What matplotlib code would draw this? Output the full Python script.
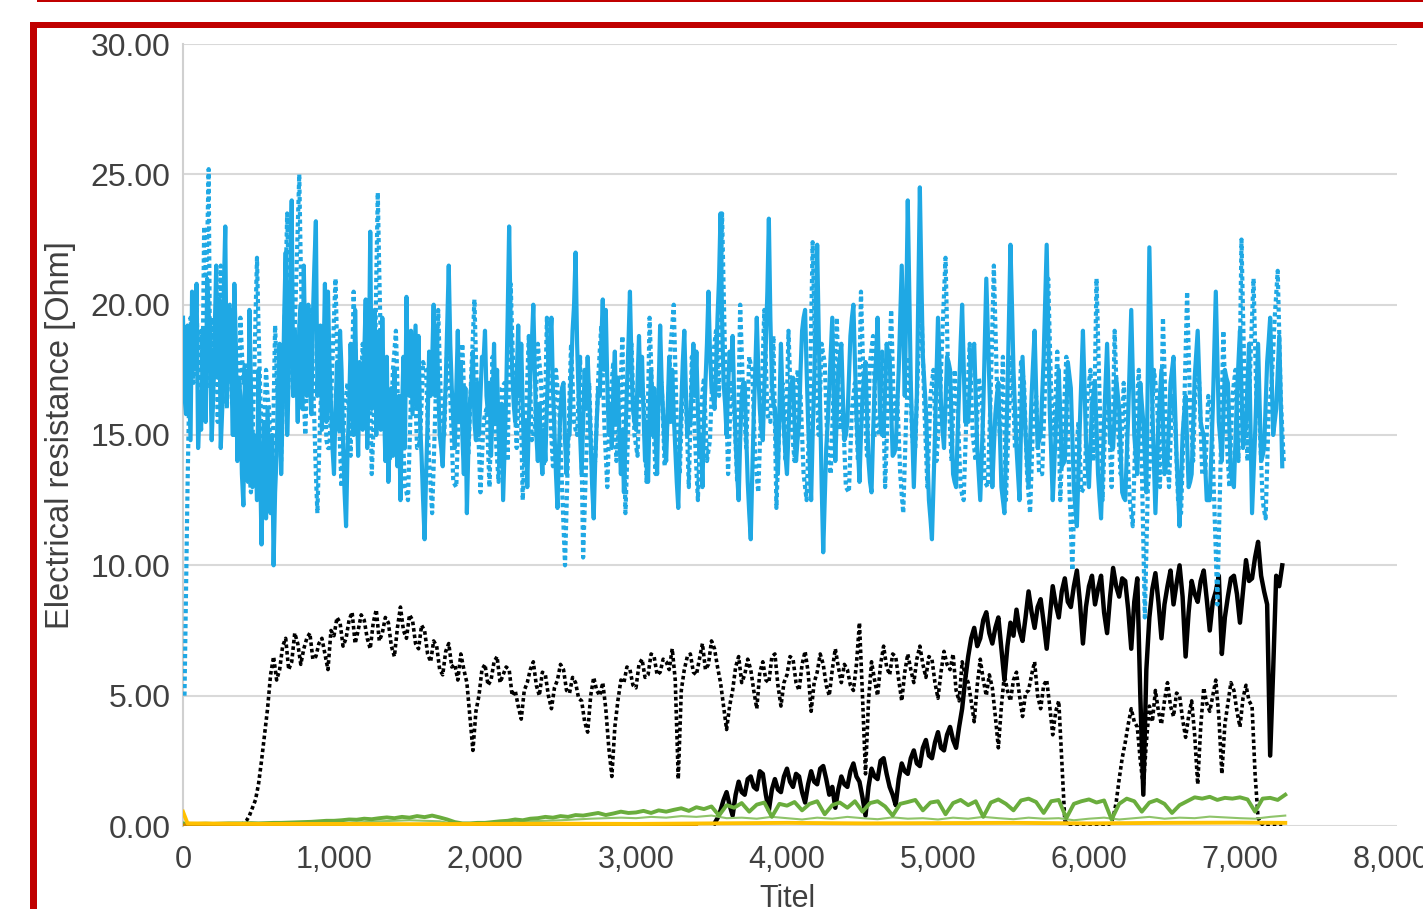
import matplotlib.pyplot as plt
import numpy as np
from matplotlib.patches import Rectangle
from matplotlib.ticker import FuncFormatter

plt.rcParams['font.family'] = ['Liberation Sans', 'DejaVu Sans']

# ---- data ----
# blue solid, every 20 from 0
blue_solid = [
    19.5, 15.8, 17.0, 20.5, 18.8, 14.5, 15.2, 19.0, 21.0, 17.8, 16.4, 21.5, 20.2, 16.0, 23.0, 18.5, 17.5, 20.8, 14.0, 16.5,
    12.3, 15.0, 19.8, 13.0, 14.5, 17.5, 10.8, 15.5, 16.0, 12.0, 10.0, 14.2, 18.5, 16.0, 22.0, 17.2, 24.0, 19.0, 15.5, 20.0,
    21.5, 16.5, 17.0, 19.5, 23.2, 18.0, 15.2, 20.8, 20.5, 16.2, 13.5, 17.8, 19.0, 14.8, 11.5, 16.0, 16.8, 19.8, 14.2, 17.5,
    18.0, 14.5, 22.8, 17.2, 15.0, 19.0, 19.5, 14.0, 13.2, 16.8, 17.5, 13.8, 12.5, 18.0, 20.3, 16.5, 15.8, 19.2, 18.8, 14.2,
    11.0, 15.5, 16.5, 20.0, 19.2, 15.0, 13.8, 17.0, 21.5, 16.8, 14.5, 19.0, 17.8, 13.5, 12.0, 16.2, 18.2, 14.8, 15.0, 18.0,
    19.0, 15.8, 14.2, 18.5, 17.5, 13.8, 12.5, 16.5, 23.0, 17.5, 15.5, 19.2, 18.5, 14.0, 13.0, 17.2, 20.0, 15.0, 16.2, 13.5,
    14.0, 17.8, 19.5, 15.2, 12.2, 16.0, 17.0, 13.5, 15.0, 19.0, 22.0, 16.5, 13.5, 17.5, 18.0, 14.8, 11.8, 15.5, 16.5, 20.2,
    19.8, 15.0, 14.5, 18.2, 17.2, 13.5, 12.8, 16.8, 20.5, 16.0, 15.2, 18.8, 18.0, 14.0, 13.2, 17.5, 16.8, 13.5, 19.2, 15.8,
    14.0, 18.0, 17.5, 14.5, 12.2, 16.2, 19.0, 15.0, 15.5, 18.5, 18.2, 14.2, 13.0, 17.0, 20.5, 16.8, 16.0, 19.5, 23.5, 17.0,
    15.0, 18.2, 18.8, 14.8, 12.5, 16.5, 17.0, 13.2, 11.0, 15.8, 19.5, 16.0, 14.8, 18.5, 23.3, 17.0, 16.0, 13.5, 18.5, 15.2,
    13.5, 16.8, 17.2, 14.0, 15.5, 19.0, 19.8, 15.5, 12.5, 17.0, 22.3, 16.0, 10.5, 14.5, 16.8, 19.5, 14.0, 17.5, 18.5, 14.8,
    15.5, 18.8, 20.0, 15.8, 13.2, 16.5, 17.8, 14.0, 12.8, 16.8, 19.5, 15.2, 15.0, 18.5, 18.0, 14.2, 14.5, 17.5, 21.5, 16.5,
    24.0, 17.0, 13.0, 16.5, 24.5, 18.0, 16.0, 12.5, 11.0, 15.0, 19.5, 16.2, 14.5, 18.0, 17.5, 13.5, 13.0, 16.8, 20.0, 15.5,
    15.5, 18.0, 18.5, 14.5, 12.5, 16.0, 21.0, 17.0, 13.0, 15.8, 17.0, 13.0, 12.0, 16.5, 22.3, 17.5, 14.5, 12.5, 18.0, 15.0,
    13.0, 16.5, 19.0, 14.5, 15.0, 18.0, 22.3, 16.0, 12.5, 15.2, 17.5, 13.8, 14.0, 17.8, 16.8, 13.0, 11.5, 15.5, 19.0, 14.8,
    13.0, 16.2, 17.0, 13.5, 11.8, 15.5, 18.5, 14.8, 14.5, 17.2, 16.0, 12.8, 12.5, 15.8, 19.8, 15.0, 13.5, 17.0, 15.5, 12.8,
    22.2, 16.0, 12.0, 15.5, 17.5, 13.5, 14.0, 17.0, 18.0, 14.2, 11.5, 15.0, 16.5, 13.0, 13.5, 17.2, 19.0, 15.5, 15.0, 12.5,
    12.5, 16.0, 20.5, 15.5, 14.0, 17.5, 17.0, 13.5, 13.0, 16.5, 19.0, 14.5, 15.5, 18.5, 12.0, 15.0, 18.5, 14.0, 14.5, 17.8,
    19.5, 15.0, 16.0, 18.8, 13.8,
]
# blue solid, the readings in between, every 20 from 10
blue_solid_mid = [
    16.5, 19.2, 14.8, 17.5, 20.8, 16.0, 18.2, 15.5, 19.8, 14.8, 19.0, 17.2, 14.5, 20.5, 16.2, 19.8, 15.0, 18.5, 17.2, 13.5,
    17.5, 13.2, 16.8, 15.0, 12.5, 14.2, 13.5, 11.8, 14.0, 15.0, 12.8, 17.0, 13.5, 19.5, 15.0, 21.0, 16.5, 17.8, 19.2, 16.0,
    18.0, 20.0, 15.8, 21.5, 16.5, 19.2, 17.5, 15.5, 17.8, 14.5, 16.0, 15.2, 17.5, 12.8, 14.5, 18.5, 15.0, 16.5, 17.8, 15.2,
    20.2, 17.0, 16.0, 19.8, 17.5, 15.2, 16.5, 18.0, 15.0, 14.2, 15.0, 16.5, 15.8, 14.5, 17.0, 19.0, 17.5, 16.0, 15.5, 12.5,
    13.5, 18.2, 17.8, 16.5, 17.0, 14.5, 15.5, 19.2, 18.5, 15.5, 16.8, 15.5, 15.0, 16.8, 14.5, 17.0, 15.5, 17.0, 16.5, 17.8,
    16.5, 17.0, 16.0, 15.5, 15.0, 16.2, 14.5, 19.5, 19.2, 16.2, 17.2, 16.5, 16.0, 15.5, 15.5, 18.5, 17.5, 14.0, 14.5, 15.2,
    16.2, 18.5, 16.8, 13.5, 14.5, 16.8, 14.8, 15.0, 17.2, 20.0, 18.5, 15.0, 15.5, 16.0, 16.5, 13.0, 14.0, 16.8, 18.5, 17.5,
    17.0, 16.2, 16.8, 15.5, 15.0, 15.2, 14.8, 18.5, 17.8, 15.5, 17.0, 16.5, 15.8, 15.5, 15.8, 15.0, 14.8, 16.8, 17.0, 14.5,
    16.0, 15.5, 15.8, 13.2, 14.5, 17.8, 16.8, 15.5, 17.0, 16.5, 16.0, 15.0, 15.5, 18.5, 18.2, 16.5, 17.5, 21.0, 19.5, 16.2,
    16.8, 17.5, 16.5, 13.5, 14.8, 17.0, 15.0, 12.0, 13.5, 17.5, 17.5, 15.2, 16.8, 20.5, 19.5, 16.2, 14.5, 16.0, 16.5, 14.2,
    15.2, 17.0, 15.5, 14.8, 17.5, 19.5, 17.5, 14.0, 15.0, 19.5, 19.0, 13.0, 12.5, 15.5, 18.2, 16.5, 15.8, 18.0, 16.5, 15.0,
    17.2, 19.5, 17.8, 14.5, 15.0, 17.2, 15.8, 13.2, 15.0, 18.0, 17.2, 15.0, 16.8, 18.2, 16.0, 14.3, 16.0, 19.5, 19.0, 20.0,
    20.5, 15.0, 14.8, 20.5, 21.0, 17.0, 14.2, 11.8, 13.0, 17.2, 17.8, 15.2, 16.2, 17.8, 15.5, 13.2, 15.0, 18.5, 17.8, 15.5,
    16.8, 18.2, 16.5, 13.5, 14.2, 18.5, 19.0, 15.0, 14.5, 16.5, 15.0, 12.5, 14.2, 19.5, 20.0, 16.0, 13.5, 15.2, 16.5, 14.0,
    14.8, 17.8, 16.8, 14.8, 16.5, 20.2, 19.2, 14.2, 13.8, 16.2, 15.8, 13.9, 15.8, 17.3, 14.9, 12.2, 13.5, 17.2, 17.0, 13.9,
    14.6, 16.6, 15.2, 12.6, 13.6, 17.0, 16.6, 14.6, 15.8, 16.6, 14.4, 12.6, 14.2, 17.8, 17.4, 14.2, 15.2, 16.2, 14.2, 17.5,
    19.1, 14.0, 13.8, 16.5, 15.5, 13.8, 15.5, 17.5, 16.1, 12.9, 13.2, 15.8, 14.8, 13.2, 15.3, 18.1, 17.2, 15.2, 13.8, 12.5,
    14.2, 18.2, 18.0, 14.8, 15.8, 17.2, 15.2, 13.2, 14.8, 17.8, 16.8, 15.0, 17.0, 15.2, 13.5, 16.8, 16.2, 14.2, 16.2, 18.6,
    17.2, 15.5, 17.4, 16.3,
]
# blue dotted, every 20 from 10
blue_dotted = [
    5.0, 13.0, 19.5, 17.0, 20.0, 16.2, 17.5, 21.0, 25.2, 19.5, 18.0, 15.5, 21.5, 17.5, 16.0, 20.0, 19.0, 15.8, 14.5, 18.2,
    17.8, 14.5, 12.8, 16.8, 21.8, 17.0, 13.5, 17.5, 16.0, 12.5, 19.2, 16.0, 14.0, 18.5, 23.5, 19.0, 16.5, 21.0, 25.0, 18.5,
    15.0, 18.0, 19.8, 15.5, 12.0, 16.0, 18.5, 14.8, 14.5, 17.8, 21.0, 16.5, 13.0, 16.2, 17.0, 14.2, 20.5, 16.8, 15.5, 18.5,
    16.5, 19.5, 13.5, 17.0, 24.3, 18.5, 17.0, 14.5, 14.0, 17.5, 19.0, 15.0, 16.2, 13.0, 12.5, 16.5, 18.0, 14.5, 14.8, 17.8,
    17.5, 14.0, 12.0, 15.8, 19.8, 16.0, 15.0, 18.5, 16.5, 13.2, 13.0, 16.8, 18.5, 15.2, 14.2, 17.5, 20.2, 16.0, 12.8, 15.5,
    16.0, 13.0, 18.0, 15.0, 13.2, 16.8, 17.0, 14.0, 20.8, 17.0, 14.5, 18.0, 12.5, 15.5, 18.8, 14.8, 15.2, 18.5, 17.2, 13.8,
    19.5, 16.0, 13.8, 17.5, 16.2, 13.0, 10.0, 14.5, 18.5, 15.5, 15.0, 18.0, 10.3, 14.0, 17.0, 13.5, 14.0, 17.2, 19.2, 15.5,
    13.0, 16.5, 17.8, 14.0, 15.5, 18.8, 12.0, 15.5, 18.5, 15.0, 14.2, 17.5, 16.5, 13.2, 19.5, 16.0, 13.5, 16.8, 17.0, 13.8,
    15.8, 18.5, 20.0, 15.5, 13.5, 17.0, 16.5, 13.0, 18.0, 15.0, 12.5, 16.0, 17.2, 14.0, 14.8, 18.0, 19.0, 16.5, 23.5, 18.0,
    13.5, 17.0, 16.0, 13.2, 20.0, 16.5, 14.5, 18.0, 17.5, 14.0, 12.8, 16.2, 19.8, 15.8, 15.5, 18.8, 12.2, 15.5, 17.0, 14.0,
    19.0, 15.5, 14.0, 17.5, 16.5, 13.5, 12.5, 16.0, 22.4, 17.5, 15.0, 18.5, 17.8, 14.2, 13.5, 17.0, 19.5, 15.2, 16.0, 13.0,
    12.8, 16.0, 17.0, 14.0, 20.5, 16.5, 14.2, 17.8, 18.8, 15.0, 15.0, 18.2, 13.0, 16.5, 19.8, 15.5, 16.5, 13.5, 12.0, 15.8,
    18.0, 14.8, 14.5, 18.0, 20.0, 16.0, 13.0, 16.5, 17.5, 14.0, 15.8, 19.0, 21.8, 16.5, 14.0, 17.5, 16.0, 13.0, 12.5, 16.0,
    18.5, 15.0, 14.0, 17.2, 16.5, 13.2, 13.0, 16.8, 21.5, 17.0, 15.0, 18.0, 12.5, 15.8, 18.0, 14.5, 14.5, 17.8, 17.0, 13.5,
    12.0, 15.5, 16.5, 13.5, 13.5, 17.0, 21.0, 16.5, 15.0, 18.2, 12.5, 15.5, 18.0, 13.0, 9.8, 14.0, 15.5, 12.8, 13.0, 16.5,
    17.5, 14.0, 21.0, 16.5, 12.5, 15.8, 16.0, 13.0, 19.0, 15.5, 13.5, 17.0, 15.0, 12.5, 11.5, 15.5, 17.5, 13.8, 8.0, 13.0,
    14.5, 17.5, 16.5, 13.0, 19.5, 15.5, 13.0, 16.5, 15.5, 12.5, 12.0, 15.8, 20.5, 16.0, 14.0, 17.8, 17.0, 13.5, 13.5, 16.5,
    16.0, 12.5, 8.5, 13.5, 19.0, 15.0, 13.0, 16.5, 17.5, 14.0, 22.5, 17.0, 14.0, 18.0, 21.0, 16.0, 15.5, 12.5, 11.8, 15.8,
    17.0, 19.5, 21.3, 16.5, 14.0,
]
# blue dotted, the readings in between, every 20 from 20
blue_dotted_mid = [
    9.0, 16.2, 18.5, 18.8, 17.8, 19.0, 23.0, 22.3, 16.8, 17.0, 18.5, 19.5, 16.8, 18.0, 17.5, 17.2, 15.0, 16.4, 19.5, 17.0,
    16.2, 13.5, 14.8, 19.5, 19.2, 15.0, 15.8, 16.5, 14.0, 16.0, 17.5, 15.0, 16.2, 21.0, 21.0, 17.5, 19.0, 23.0, 21.5, 16.5,
    16.8, 19.0, 17.5, 13.5, 14.0, 17.2, 16.5, 14.5, 16.2, 19.5, 18.5, 14.5, 14.5, 16.5, 15.5, 17.5, 18.5, 16.0, 17.0, 17.5,
    18.0, 16.5, 15.0, 21.0, 21.2, 17.5, 15.5, 14.2, 15.8, 18.2, 17.0, 15.5, 14.5, 12.8, 14.5, 17.2, 16.2, 14.6, 16.2, 17.6,
    15.5, 13.0, 13.8, 17.8, 17.8, 15.5, 16.8, 17.5, 14.8, 13.1, 14.9, 17.6, 16.8, 14.7, 15.8, 18.8, 18.0, 14.4, 14.1, 15.8,
    14.5, 15.5, 16.5, 14.1, 15.0, 16.9, 15.5, 17.4, 18.9, 15.8, 16.2, 15.2, 14.0, 17.1, 16.8, 15.0, 16.8, 17.8, 15.5, 16.6,
    17.7, 14.9, 15.6, 16.8, 14.6, 11.5, 12.2, 16.5, 17.0, 15.2, 16.5, 14.2, 12.1, 15.5, 15.2, 13.8, 15.6, 18.2, 17.3, 14.2,
    14.7, 17.1, 15.9, 14.8, 17.1, 15.4, 13.8, 17.0, 16.8, 14.6, 15.8, 17.0, 14.8, 16.3, 17.7, 14.8, 15.1, 16.9, 15.4, 14.8,
    17.1, 19.2, 17.7, 14.5, 15.2, 16.7, 14.7, 15.5, 16.5, 13.7, 14.2, 16.6, 15.6, 14.4, 16.4, 18.5, 17.7, 20.0, 20.7, 15.7,
    15.2, 16.5, 14.6, 16.6, 18.2, 15.5, 16.2, 17.7, 15.7, 13.4, 14.5, 18.0, 17.8, 15.6, 17.1, 15.5, 13.8, 16.2, 15.5, 16.5,
    17.2, 14.7, 15.7, 17.0, 15.0, 13.0, 14.2, 19.2, 20.0, 16.2, 16.7, 18.1, 16.0, 13.8, 15.2, 18.2, 17.3, 15.6, 14.5, 12.9,
    14.4, 16.5, 15.5, 17.2, 18.5, 15.3, 16.0, 18.3, 16.9, 15.0, 16.6, 15.6, 14.7, 18.1, 17.6, 16.0, 15.0, 12.7, 13.9, 16.9,
    16.4, 14.6, 16.2, 19.0, 18.0, 14.5, 14.7, 17.0, 15.7, 14.9, 17.4, 20.4, 19.1, 15.2, 15.7, 16.7, 14.5, 12.7, 14.2, 17.2,
    16.7, 14.5, 15.6, 16.8, 14.8, 13.1, 14.9, 19.1, 19.2, 16.0, 16.5, 15.2, 14.1, 16.9, 16.2, 14.5, 16.1, 17.4, 15.2, 12.7,
    13.7, 16.0, 15.0, 13.5, 15.2, 19.0, 18.7, 15.7, 16.6, 15.3, 14.0, 16.7, 15.5, 11.4, 11.9, 14.7, 14.1, 12.9, 14.7, 17.0,
    15.7, 17.5, 18.7, 14.5, 14.1, 15.9, 14.5, 16.0, 17.2, 14.5, 15.2, 16.0, 13.7, 12.0, 13.5, 16.5, 15.6, 10.9, 10.5, 13.7,
    16.0, 17.0, 14.7, 16.2, 17.5, 14.2, 14.7, 16.0, 14.0, 12.2, 13.9, 18.1, 18.2, 15.0, 15.9, 17.4, 15.2, 13.5, 15.0, 16.2,
    14.2, 10.5, 11.0, 16.2, 17.0, 14.0, 14.7, 17.0, 15.7, 18.2, 19.7, 15.5, 16.0, 19.5, 18.5, 15.7, 14.0, 12.1, 13.8, 16.4,
    18.2, 20.4, 18.9, 15.2,
]
# black dotted, every 20 from 0
black_dotted = [
    0.0, 0.0, 0.0, 0.0, 0.0, 0.0, 0.0, 0.0, 0.0, 0.0, 0.0, 0.0, 0.0, 0.0, 0.0, 0.0, 0.0, 0.0, 0.0, 0.0,
    0.1, 0.2, 0.4, 0.7, 1.0, 1.6, 2.5, 3.5, 4.5, 5.8, 6.5, 5.6, 6.0, 6.9, 7.2, 6.0, 6.3, 7.4, 7.0, 6.2,
    6.8, 7.2, 7.4, 6.4, 6.5, 7.0, 7.2, 6.6, 6.0, 7.5, 7.3, 8.0, 7.8, 6.9, 7.2, 7.9, 8.2, 7.0, 7.5, 8.1,
    7.9, 7.2, 6.8, 7.8, 8.3, 7.1, 7.4, 8.0, 7.8, 6.9, 6.5, 7.6, 8.4, 7.5, 7.2, 8.1, 7.9, 7.0, 6.8, 7.7,
    7.5, 6.6, 6.3, 7.1, 6.9, 6.0, 5.8, 6.7, 7.0, 6.1, 6.2, 5.6, 6.6, 6.0, 5.5, 4.2, 2.9, 4.4, 5.0, 6.0,
    6.2, 5.4, 5.6, 6.3, 6.5, 5.5, 5.8, 6.1, 6.0, 5.0, 5.2, 4.6, 4.1, 5.2, 5.5, 6.0, 6.3, 5.4, 5.0, 5.9,
    5.8, 5.0, 4.5, 5.3, 5.6, 6.2, 6.0, 5.2, 5.1, 5.7, 5.5, 4.9, 4.8, 4.0, 3.6, 5.0, 5.7, 5.2, 5.0, 5.5,
    4.5, 3.0, 1.9, 3.8, 4.8, 5.6, 5.5, 6.1, 6.0, 5.4, 5.3, 6.2, 6.4, 5.7, 5.8, 6.6, 6.5, 5.8, 5.9, 6.4,
    6.3, 6.0, 6.8, 5.6, 1.8, 5.2, 6.0, 6.5, 6.6, 5.9, 5.8, 6.4, 7.0, 6.0, 6.2, 7.1, 6.8, 6.1, 5.5, 4.6,
    3.7, 4.6, 5.2, 6.1, 6.5, 5.5, 5.8, 6.4, 6.0, 5.2, 4.5, 5.9, 6.3, 5.6, 5.5, 6.5, 6.6, 5.4, 4.6, 5.5,
    5.8, 6.5, 6.4, 5.5, 5.2, 6.2, 6.7, 5.9, 4.4, 5.5, 5.9, 6.6, 6.2, 5.4, 5.0, 6.0, 6.8, 6.1, 5.5, 6.2,
    6.0, 5.4, 5.2, 6.2, 7.8, 5.0, 2.0, 4.8, 6.3, 5.6, 5.0, 6.2, 6.9, 6.1, 5.8, 6.6, 6.5, 5.6, 4.8, 5.9,
    6.6, 6.0, 5.5, 6.4, 6.9, 6.2, 5.7, 6.5, 6.4, 5.5, 4.9, 5.9, 6.7, 6.2, 6.0, 6.6, 5.2, 4.8, 6.3, 5.8,
    5.5, 4.8, 4.0, 5.4, 6.4, 5.6, 5.0, 5.8, 5.3, 4.2, 3.0, 4.6, 5.8, 5.2, 4.8, 5.6, 5.9, 5.0, 4.2, 5.1,
    5.2, 5.8, 6.3, 5.0, 4.5, 5.4, 5.6, 4.6, 3.5, 4.4, 4.8, 2.5, 0.2, 0.1, 0.0, 0.0, 0.0, 0.0, 0.0, 0.0,
    0.0, 0.0, 0.0, 0.0, 0.0, 0.0, 0.0, 0.1, 0.3, 0.9, 1.8, 2.6, 3.2, 3.9, 4.5, 4.0, 3.8, 2.5, 1.5, 3.2,
    4.6, 4.0, 5.2, 4.4, 3.9, 4.8, 5.5, 4.6, 4.2, 5.1, 5.0, 4.1, 3.4, 4.2, 4.8, 3.5, 1.6, 3.8, 5.3, 4.7,
    4.4, 5.0, 5.6, 4.2, 2.0, 3.9, 4.7, 5.5, 5.2, 4.4, 3.8, 4.9, 5.4, 4.8, 4.6, 2.0, 0.3, 0.1, 0.0, 0.0,
    0.0, 0.0, 0.0, 0.0, 0.0,
]
# black solid, every 20 from 3520
black_solid = [
    0.1, 0.3, 0.6, 1.0, 1.3, 0.8, 0.4, 1.2, 1.7, 1.3, 1.2, 1.8, 1.9, 1.5, 1.4, 2.1, 2.0, 1.2, 0.6, 1.4,
    1.8, 1.4, 1.3, 1.9, 2.2, 1.7, 1.5, 2.0, 1.9, 1.3, 0.9, 1.6, 2.1, 1.7, 1.6, 2.2, 2.3, 1.8, 1.2, 1.5,
    0.7, 1.4, 1.9, 1.6, 1.5, 2.1, 2.4, 1.9, 1.7, 1.1, 0.4, 1.5, 2.2, 1.9, 1.8, 2.5, 2.6, 2.0, 1.5, 1.2,
    0.8, 1.8, 2.4, 2.1, 2.0, 2.6, 2.9, 2.4, 2.3, 3.0, 3.3, 2.7, 2.6, 3.2, 3.6, 3.0, 2.9, 3.5, 3.8, 3.3,
    3.0, 3.8, 4.5, 5.6, 6.5, 7.2, 7.6, 6.9, 7.2, 7.9, 8.2, 7.4, 7.0, 7.6, 8.0, 6.8, 5.6, 6.9, 7.8, 7.3,
    8.3, 7.5, 7.1, 8.0, 9.0, 8.2, 7.6, 8.4, 8.7, 7.8, 6.8, 8.0, 9.2, 8.5, 8.0, 9.0, 9.5, 8.6, 8.4, 9.2,
    9.8, 8.6, 7.0, 8.4, 9.2, 9.6, 8.5, 9.1, 9.6, 8.2, 7.4, 8.8, 9.9, 9.2, 8.8, 9.5, 9.4, 8.3, 6.8, 8.6,
    9.5, 5.0, 1.2, 6.0, 8.0, 9.1, 9.7, 8.6, 7.2, 8.5, 9.2, 9.8, 8.5, 9.3, 10.0, 8.8, 6.5, 8.2, 9.4, 8.9,
    8.6, 9.4, 9.8, 8.7, 7.5, 8.6, 9.0, 9.6, 6.6, 8.0, 8.8, 9.5, 9.6, 8.9, 7.8, 9.0, 10.2, 9.4, 9.5, 10.3,
    10.9, 9.6, 9.0, 8.5, 2.7, 6.0, 9.6, 9.2, 10.0,
]
# green (thick), every 50 from 0
green_thick = [
    0.10, 0.08, 0.08, 0.09, 0.08, 0.09, 0.10, 0.10, 0.10, 0.11,
    0.10, 0.11, 0.12, 0.12, 0.13, 0.14, 0.15, 0.16, 0.18, 0.20,
    0.20, 0.22, 0.25, 0.24, 0.28, 0.26, 0.30, 0.33, 0.30, 0.35,
    0.32, 0.38, 0.34, 0.40, 0.33, 0.25, 0.15, 0.10, 0.10, 0.12,
    0.12, 0.15, 0.18, 0.20, 0.25, 0.22, 0.28, 0.30, 0.35, 0.32,
    0.38, 0.35, 0.42, 0.40, 0.45, 0.50, 0.42, 0.48, 0.55, 0.50,
    0.52, 0.58, 0.50, 0.60, 0.55, 0.62, 0.68, 0.58, 0.72, 0.65,
    0.75, 0.40, 0.80, 0.70, 0.88, 0.55, 0.82, 0.90, 0.35, 0.85,
    0.78, 0.92, 0.60, 0.85, 0.95, 0.45, 0.80, 0.90, 0.70, 0.95,
    0.55, 0.88, 0.95, 0.75, 0.40, 0.85, 0.92, 1.00, 0.60, 0.90,
    0.95, 0.45, 0.88, 1.00, 0.80, 0.95, 0.35, 0.90, 1.02, 0.85,
    0.60, 0.98, 1.05, 0.92, 0.50, 0.95, 1.00, 0.30, 0.85, 0.95,
    1.02, 0.90, 0.98, 0.25, 0.85, 1.05, 0.95, 0.55, 0.90, 1.00,
    0.85, 0.50, 0.80, 0.95, 1.10, 1.05, 1.12, 1.00, 1.08, 1.05,
    1.10, 1.02, 0.55, 1.05, 1.08, 1.00, 1.20,
]
# green (thin, lighter), every 100 from 1000
green_thin = [
    0.10, 0.12, 0.15, 0.18, 0.20, 0.22, 0.20, 0.18, 0.08, 0.08,
    0.10, 0.12, 0.15, 0.18, 0.20, 0.22, 0.25, 0.28, 0.30, 0.32,
    0.30, 0.35, 0.32, 0.38, 0.35, 0.40, 0.30, 0.32, 0.28, 0.35,
    0.30, 0.25, 0.32, 0.28, 0.35, 0.30, 0.26, 0.33, 0.28, 0.30,
    0.25, 0.32, 0.28, 0.35, 0.30, 0.26, 0.32, 0.28, 0.30, 0.22,
    0.28, 0.32, 0.25, 0.30, 0.35, 0.28, 0.32, 0.30, 0.36, 0.33,
    0.30, 0.28, 0.35, 0.40,
]
yellow_x = [0, 30, 500, 1000, 1500, 2000, 2500, 3000, 3500, 4000, 4500,
            5000, 5500, 6000, 6500, 7000, 7300]
yellow = [0.55, 0.10, 0.08, 0.08, 0.07, 0.08, 0.09, 0.08, 0.10, 0.12, 0.10,
          0.11, 0.12, 0.10, 0.12, 0.13, 0.12]
orange_x = [0, 500, 1000, 1500, 2000, 2500, 3000, 3400]
orange = [0.03, 0.02, 0.02, 0.03, 0.02, 0.02, 0.03, 0.02]


def merge(x1, y1, x2, y2):
    # put the two sets of readings into one series ordered by x
    x = np.concatenate([x1, x2])
    y = np.concatenate([y1, y2])
    order = np.argsort(x, kind='stable')
    return x[order], y[order]


xs_blue, ys_blue = merge(np.arange(len(blue_solid)) * 20, blue_solid,
                         10 + np.arange(len(blue_solid_mid)) * 20, blue_solid_mid)
xd_blue, yd_blue = merge(10 + np.arange(len(blue_dotted)) * 20, blue_dotted,
                         20 + np.arange(len(blue_dotted_mid)) * 20, blue_dotted_mid)
x_black_dotted = np.arange(len(black_dotted)) * 20
x_black_solid = 3520 + np.arange(len(black_solid)) * 20
x_green_thick = np.arange(len(green_thick)) * 50
x_green_thin = 1000 + np.arange(len(green_thin)) * 100

BLUE = '#1FA8E4'
W, H = 1423, 909
fig = plt.figure(figsize=(W / 100, H / 100), dpi=100)
ax = fig.add_axes([183 / W, 83 / H, 1214 / W, 782 / H])

ax.plot(x_black_solid, black_solid, color='black', lw=3.2, zorder=3)
ax.plot(x_black_dotted, black_dotted, color='black', lw=2.6, ls=(0, (1, 0.8)), zorder=3)
ax.plot(xs_blue, ys_blue, color=BLUE, lw=3.0, zorder=4)
ax.plot(xd_blue, yd_blue, color=BLUE, lw=3.0, ls=(0, (1, 0.8)), zorder=4)
ax.plot(x_green_thin, green_thin, color='#8FC46A', lw=1.5, zorder=5)
ax.plot(x_green_thick, green_thick, color='#6AAD3D', lw=2.8, zorder=5)
ax.plot(orange_x, orange, color='#C98A00', lw=2.5, zorder=6)
ax.plot(yellow_x, yellow, color='#FFC000', lw=2.8, zorder=6)

ax.set_xlim(0, 8040)
ax.set_ylim(0, 30)
ax.set_xticks(range(0, 8001, 1000))
ax.set_yticks(range(0, 31, 5))
ax.xaxis.set_major_formatter(FuncFormatter(lambda v, p: f'{v:,.0f}'))
ax.yaxis.set_major_formatter(FuncFormatter(lambda v, p: f'{v:.2f}'))
ax.tick_params(length=0, colors='#404040')
ax.tick_params(axis='y', labelsize=23, pad=9)
ax.tick_params(axis='x', labelsize=22, pad=14)
ax.grid(axis='y', color='#D9D9D9', lw=1.5)
ax.set_axisbelow(True)
for s in ['top', 'right', 'bottom']:
    ax.spines[s].set_visible(False)
ax.spines['left'].set_color('#D0D0D0')
ax.spines['left'].set_linewidth(1.5)

ax.set_ylabel('Electrical resistance [Ohm]', fontsize=23.5, color='#404040')
ax.yaxis.set_label_coords(-0.088, 0.5)
ax.set_xlabel('Titel', fontsize=22, color='#404040')
ax.xaxis.set_label_coords(0.498, -0.074)

# red frame of the screenshot
red = '#C00000'
fig.add_artist(Rectangle((30 / W, (H - 28) / H), 1 - 30 / W, 6 / H,
                         transform=fig.transFigure, color=red, lw=0))
fig.add_artist(Rectangle((30 / W, 0), 7 / W, (H - 22) / H,
                         transform=fig.transFigure, color=red, lw=0))
fig.add_artist(Rectangle((37 / W, (H - 2) / H), 1 - 37 / W, 2 / H,
                         transform=fig.transFigure, color=red, lw=0))

fig.savefig('out.png', dpi=100)
